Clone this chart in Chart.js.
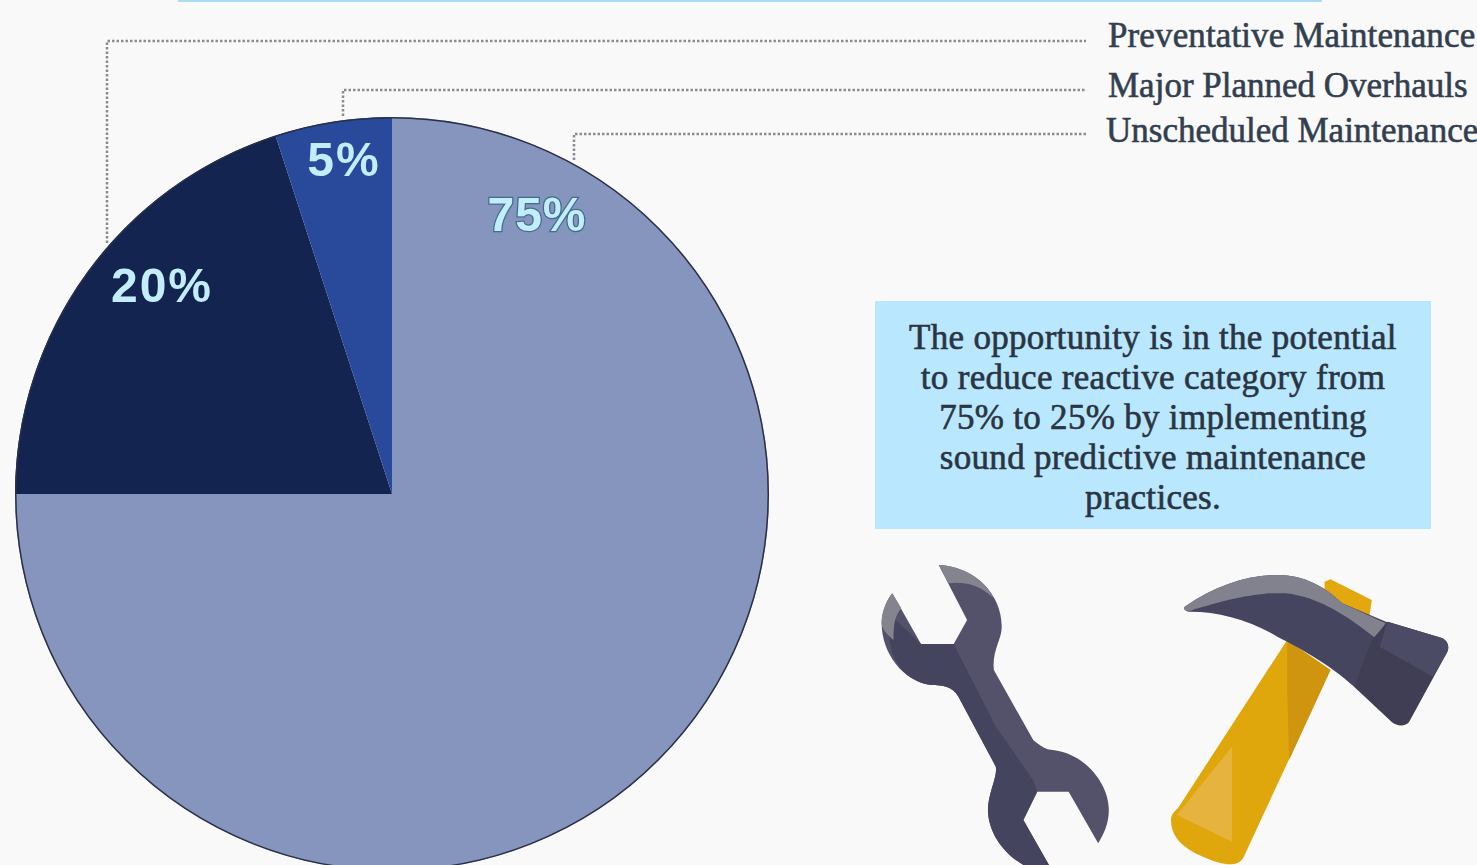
<!DOCTYPE html>
<html>
<head>
<meta charset="utf-8">
<title>Maintenance categories</title>
<script src="https://cdn.jsdelivr.net/npm/chart.js@4"></script>
<style>
  html, body { margin: 0; padding: 0; width: 1477px; height: 865px; overflow: hidden; background: #f9f9fa; }
  #pieChart { position: absolute; left: 15px; top: 117px; }
  #art { position: absolute; left: 0; top: 0; }
  .pct { position: absolute; font-family: "Liberation Sans", sans-serif; font-weight: 700; font-size: 48px; line-height: 48px;
         letter-spacing: 2px; color: #c4edfc; transform: translate(-50%, -50%); white-space: nowrap; }
  .pct.outlined { letter-spacing: 1px; -webkit-text-stroke: 2.5px #3f6f8c; paint-order: stroke fill; }
  .lead { position: absolute; font-family: "Liberation Serif", serif; font-size: 35px; line-height: 36px;
          color: #333f4f; -webkit-text-stroke: 0.6px #333f4f; white-space: nowrap; }
  #note { position: absolute; left: 875px; top: 301px; width: 556px; height: 228px; background: #b9e7fd;
          font-family: "Liberation Serif", serif; font-size: 35px; line-height: 40px; color: #2a3442; letter-spacing: 0.3px;
          -webkit-text-stroke: 0.6px #2a3442; text-align: center; box-sizing: border-box; padding-top: 17px; }
  #note div { white-space: nowrap; }
</style>
</head>
<body>
<svg id="art" width="1477" height="865">
  <rect x="178" y="0" width="1144" height="2" fill="#a9dcf6"/>
  <g fill="none" stroke="#8b8b94" stroke-width="2.5" stroke-dasharray="2.5 2">
    <path d="M107 243V41H1086"/>
    <path d="M343 116V90H1086"/>
    <path d="M574 160V134H1086"/>
  </g>
  <g transform="translate(860 540) scale(0.3937 0.3333)">
    <path fill="#53526a" d="M200 75C290 80 360 160 360 260C360 300 335 330 340 390L440 600C470 630 480 628 490 630C570 640 632 730 632 810C632 850 620 880 605 910L530 755H450L415 840L480 975H415C350 930 325 860 325 810C325 760 350 710 345 680L250 470C235 440 210 435 180 435C110 425 55 340 55 250C55 220 65 185 82 160L155 312H238L272 240Z"/>
    <path fill="#45445e" d="M82 230L155 312H238L250 340L345 560L440 720L450 755L415 840L480 975H415C350 930 325 860 325 810C325 760 350 710 345 680L250 470C235 440 210 435 180 435C110 425 55 340 82 230Z"/>
    <path fill="#84848f" d="M200 75C260 78 315 115 340 175C300 130 260 125 225 130Z"/>
    <path fill="#84848f" d="M82 160L105 205C90 225 85 250 85 300C65 280 55 265 55 250C55 220 65 185 82 160Z"/>
    <path fill="#e4a80f" d="M1180 125L1195 118L1300 180L1290 260L1180 200Z"/>
    <path fill="#e0a70c" d="M1085 300L1195 390L975 950C960 985 920 975 880 955C830 930 790 900 790 840C790 820 800 815 810 800Z"/>
    <path fill="#d0950e" d="M1085 300L1195 390L1090 660L1085 450Z"/>
    <path fill="#e7b33f" d="M945 620L945 905L805 825Z"/>
    <path fill="#46455f" d="M825 200C900 140 980 105 1060 105C1130 105 1180 140 1225 190L1345 250L1320 440H1255C1190 370 1110 320 1060 290C990 240 910 215 840 215C825 215 820 205 825 200Z"/>
    <path fill="#82828e" d="M825 200C900 140 980 105 1060 105C1130 105 1180 140 1225 190L1335 250L1310 295C1250 240 1170 170 1080 160C1000 155 900 190 840 212C825 215 820 205 825 200Z"/>
    <path fill="#3f3e55" d="M1340 245L1480 295C1495 305 1498 325 1490 340L1395 545C1385 560 1365 560 1350 545L1255 440L1300 300Z"/>
    <path fill="#4c4b65" d="M1340 245L1480 295C1495 305 1498 325 1490 340L1455 410L1320 320Z"/>
  </g>
</svg>

<canvas id="pieChart" width="754" height="754"></canvas>

<div class="lead" style="left:1108px;top:18px;letter-spacing:0.12px">Preventative Maintenance</div>
<div class="lead" style="left:1108px;top:68px">Major Planned Overhauls</div>
<div class="lead" style="left:1106px;top:113px">Unscheduled Maintenance</div>

<div id="note"></div>

<script>
const categories = ["Unscheduled Maintenance", "Preventative Maintenance", "Major Planned Overhauls"];
const shares = [75, 20, 5];
const sliceColors = ["#8695bd", "#12244f", "#29499a"];
const noteLines = [
  "The opportunity is in the potential",
  "to reduce reactive category from",
  "75% to 25% by implementing",
  "sound predictive maintenance",
  "practices."
];

/* dark rim round the whole pie */
const rimPlugin = {
  id: "rim",
  afterDatasetsDraw(chart) {
    const arc = chart.getDatasetMeta(0).data[0];
    const ctx = chart.ctx;
    ctx.save();
    ctx.beginPath();
    ctx.arc(arc.x, arc.y, arc.outerRadius - 0.75, 0, Math.PI * 2);
    ctx.lineWidth = 1.5;
    ctx.strokeStyle = "#2b3048";
    ctx.stroke();
    ctx.restore();
  }
};

new Chart(document.getElementById("pieChart"), {
  type: "pie",
  data: {
    labels: categories,
    datasets: [{
      data: shares,
      backgroundColor: sliceColors,
      borderWidth: 0
    }]
  },
  options: {
    responsive: false,
    animation: false,
    plugins: { legend: { display: false }, tooltip: { enabled: false } }
  },
  plugins: [rimPlugin]
});

// PERCENT LABELS
const labelSpots = [[537, 215, true], [162, 286, false], [344, 160, false]];
shares.forEach((v, i) => {
  const el = document.createElement("div");
  el.className = labelSpots[i][2] ? "pct outlined" : "pct";
  el.style.left = labelSpots[i][0] + "px";
  el.style.top = labelSpots[i][1] + "px";
  el.textContent = v + "%";
  document.body.appendChild(el);
});

// NOTE BOX
noteLines.forEach(line => {
  const el = document.createElement("div");
  el.textContent = line;
  document.getElementById("note").appendChild(el);
});
</script>
</body>
</html>
